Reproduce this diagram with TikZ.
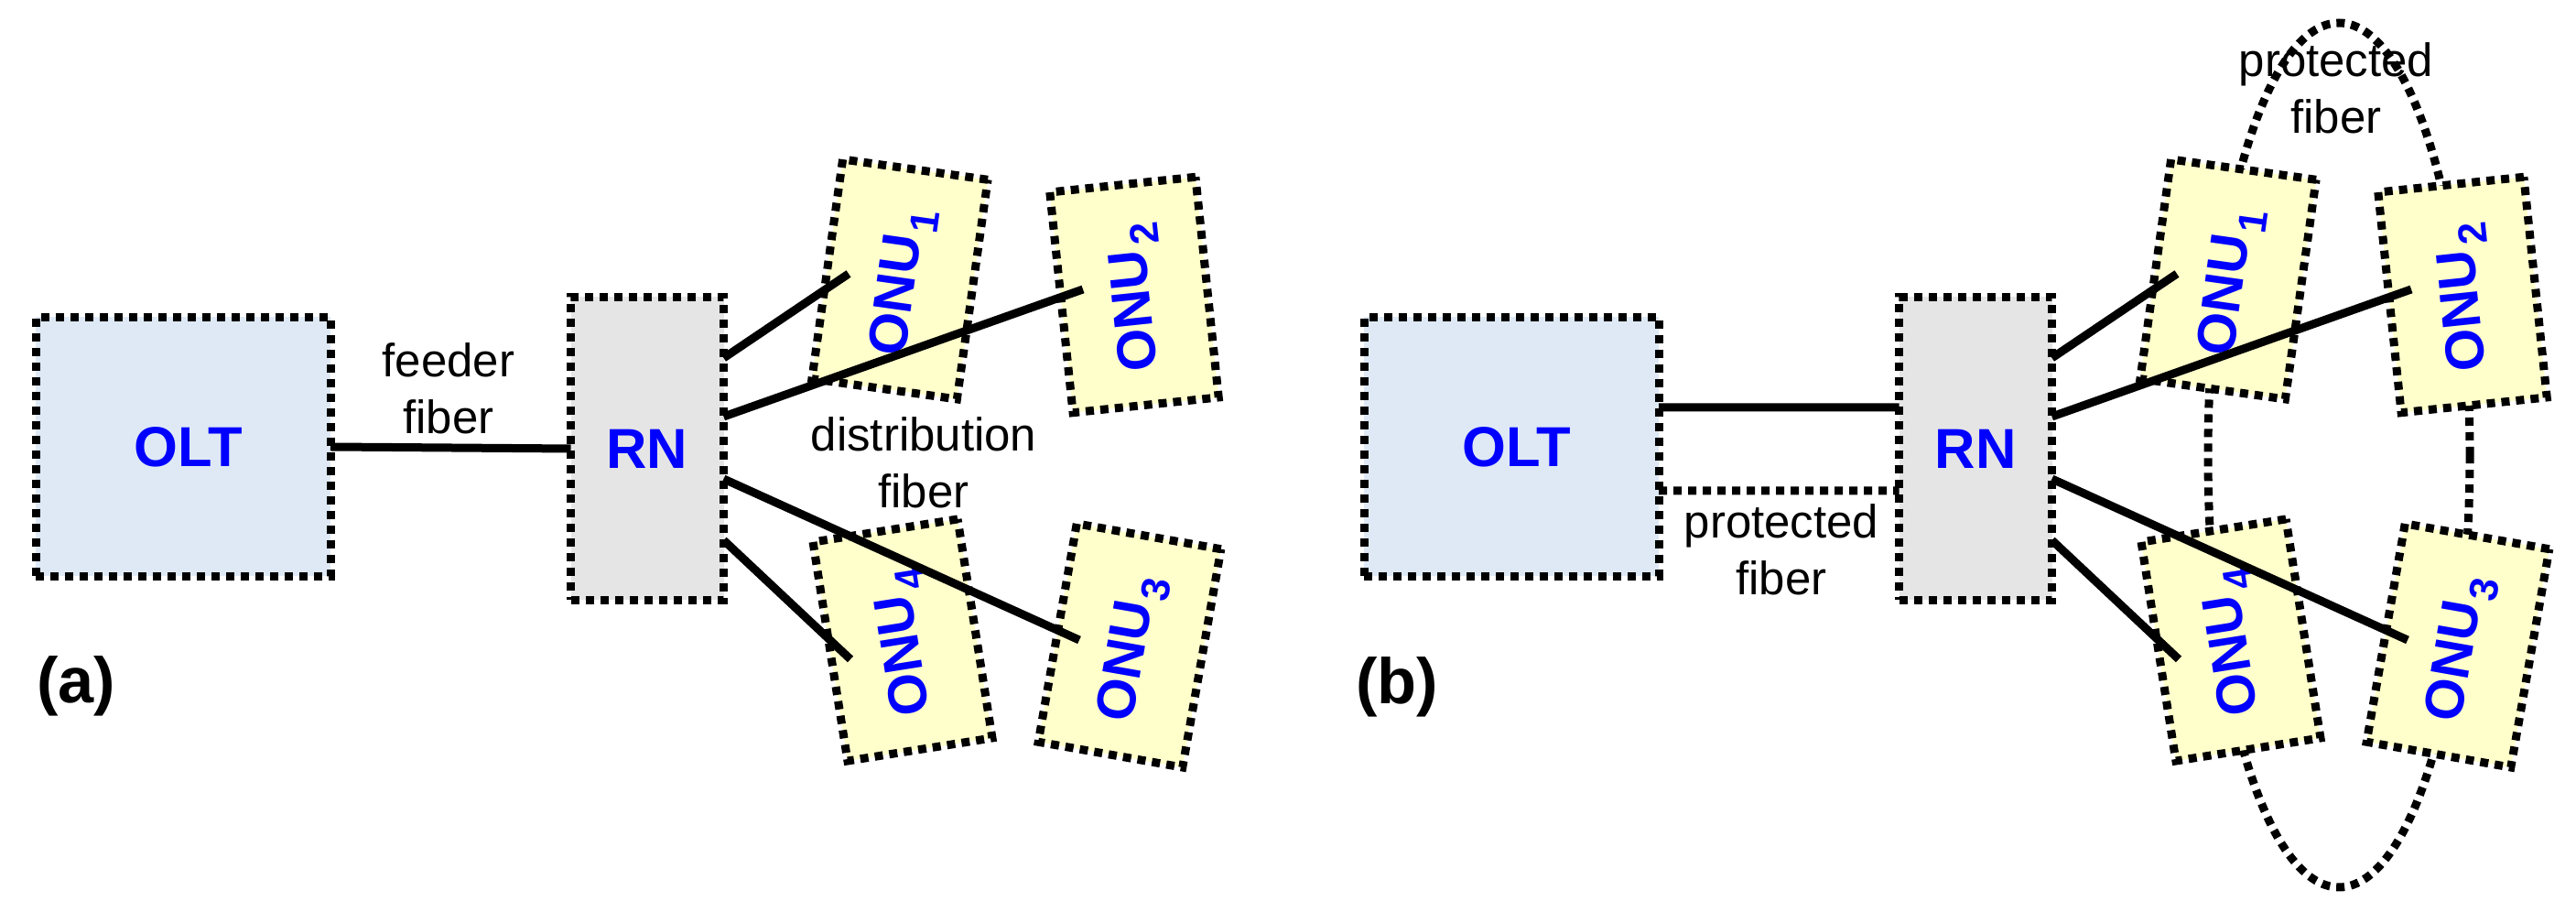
\documentclass[tikz,border=0pt]{standalone}
\usepackage{fontspec}
\setmainfont{Liberation Sans}
\usepackage{graphicx}
\definecolor{oltblue}{HTML}{DEE9F5}
\definecolor{rngray}{HTML}{E5E5E5}
\definecolor{onuyellow}{HTML}{FFFFCC}
\tikzset{
    dotline/.style={line width=0.09cm,dash pattern=on 0.09cm off 0.07cm},
    solidline/.style={line width=0.09cm},
    olt/.style={draw,dotline,fill=oltblue,outer sep=0pt,minimum width=3.22cm,minimum height=2.83cm,font=\fontsize{17.5}{20}\selectfont\bfseries,text=blue},
    rn/.style={draw,dotline,fill=rngray,outer sep=0pt,minimum width=1.67cm,minimum height=3.31cm,font=\fontsize{17.5}{20}\selectfont\bfseries,text=blue},
    onu/.style={draw,dotline,fill=onuyellow,outer sep=0pt,minimum width=1.6cm,minimum height=2.42cm,inner sep=0pt,font=\fontsize{17}{20}\selectfont\bfseries,text=blue},
    lbl/.style={align=center,inner sep=0pt,font=\fontsize{14.5}{17.6}\selectfont},
    tag/.style={inner sep=0pt,font=\fontsize{20}{24}\selectfont\bfseries}
}
\newcommand{\onutext}[1]{\rotatebox{90}{\raisebox{-0.17cm}[0pt][0pt]{ONU\hspace{0.04cm}\raisebox{-0.16cm}{\fontsize{12.5}{14}\selectfont #1}\hspace{0.06cm}}}}
\begin{document}
\begin{tikzpicture}
            \useasboundingbox (0,0) rectangle (28.14,9.96);
            % panel a
            \node [olt] (oltA) at (2.00,5.08) {\hspace*{0.11cm}OLT};
            \node [rn] (rnA) at (7.07,5.06) {RN};
            \node [onu,rotate=-8] (onuAone) at (9.83,6.91) {\onutext{1}};
            \node [onu,rotate=6] (onuAtwo) at (12.39,6.74) {\onutext{2}};
            \node [onu,rotate=-10] (onuAthree) at (12.34,2.91) {\onutext{3}};
            \node [onu,rotate=9] (onuAfour) at (9.86,2.97) {\onutext{4}};
            \draw [solidline] (oltA.east) -- (rnA.west);
            \draw [solidline] ([yshift=0.99cm]rnA.east) -- ([xshift=-0.56cm,yshift=0.06cm]onuAone.center);
            \draw [solidline] ([yshift=0.35cm]rnA.east) -- ([xshift=-0.56cm,yshift=0.06cm]onuAtwo.center);
            \draw [solidline] ([yshift=-0.33cm]rnA.east) -- ([xshift=-0.55cm,yshift=0.06cm]onuAthree.center);
            \draw [solidline] ([yshift=-1.00cm]rnA.east) -- ([xshift=-0.57cm,yshift=-0.21cm]onuAfour.center);
            \node [lbl] (feederA) at (4.90,5.72) {feeder\\fiber};
            \node [lbl] (distA) at (10.09,4.91) {distribution\\fiber};
            \node [tag] (tagA) at (0.83,2.47) {(a)};
            % panel b
            \draw [dotline] (25.55,4.99) ellipse (1.43cm and 4.72cm);
            \node [olt] (oltB) at (16.51,5.08) {\hspace*{0.11cm}OLT};
            \node [rn] (rnB) at (21.58,5.06) {RN};
            \node [onu,rotate=-8] (onuBone) at (24.34,6.91) {\onutext{1}};
            \node [onu,rotate=6] (onuBtwo) at (26.90,6.74) {\onutext{2}};
            \node [onu,rotate=-10] (onuBthree) at (26.85,2.91) {\onutext{3}};
            \node [onu,rotate=9] (onuBfour) at (24.37,2.97) {\onutext{4}};
            \draw [solidline] ([yshift=0.43cm]oltB.east) -- ([yshift=0.45cm]rnB.west);
            \draw [dotline] ([yshift=-0.48cm]oltB.east) -- ([yshift=-0.46cm]rnB.west);
            \draw [solidline] ([yshift=0.99cm]rnB.east) -- ([xshift=-0.56cm,yshift=0.06cm]onuBone.center);
            \draw [solidline] ([yshift=0.35cm]rnB.east) -- ([xshift=-0.56cm,yshift=0.06cm]onuBtwo.center);
            \draw [solidline] ([yshift=-0.33cm]rnB.east) -- ([xshift=-0.55cm,yshift=0.06cm]onuBthree.center);
            \draw [solidline] ([yshift=-1.00cm]rnB.east) -- ([xshift=-0.57cm,yshift=-0.21cm]onuBfour.center);
            \node [lbl] (protA) at (19.46,3.96) {protected\\fiber};
            \node [lbl] (protB) at (25.52,9.00) {protected\\fiber};
            \node [tag] (tagB) at (15.26,2.46) {(b)};
\end{tikzpicture}
\end{document}
